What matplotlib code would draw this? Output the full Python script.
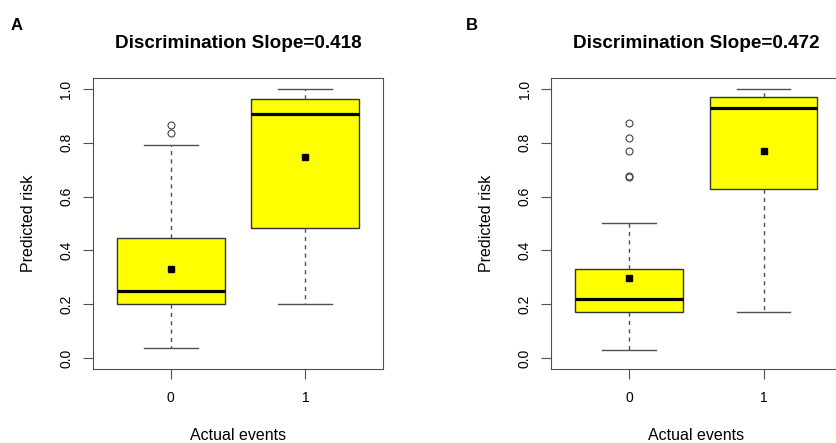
import numpy as np
import matplotlib.pyplot as plt

plt.rcParams['font.family'] = ['Liberation Sans', 'DejaVu Sans']

groups = ['0', '1']

# panel A
a_q1 = [0.201, 0.482]
a_med = [0.248, 0.907]
a_q3 = [0.446, 0.963]
a_lo = [0.037, 0.201]
a_hi = [0.793, 1.000]
a_mean = [0.329, 0.748]
a_fliers = [[0.868, 0.836], []]
a_slope = 0.418

# panel B
b_q1 = [0.172, 0.628]
b_med = [0.220, 0.928]
b_q3 = [0.331, 0.971]
b_lo = [0.031, 0.172]
b_hi = [0.500, 1.000]
b_mean = [0.2985, 0.770]
b_fliers = [[0.872, 0.819, 0.770, 0.677, 0.672], []]
b_slope = 0.472

line_col = '#505050'


def panel(ax, q1, med, q3, lo, hi, mean, fliers, slope):
    stats = []
    for i in range(len(groups)):
        stats.append(dict(q1=q1[i], med=med[i], q3=q3[i], whislo=lo[i],
                          whishi=hi[i], mean=mean[i], fliers=fliers[i],
                          label=groups[i]))
    ax.bxp(stats, positions=range(len(groups)), widths=0.8, patch_artist=True,
           showmeans=True, capwidths=0.4,
           boxprops=dict(facecolor='#FFFF00', edgecolor='#333333', lw=1),
           medianprops=dict(color='black', lw=2.3, solid_capstyle='butt'),
           whiskerprops=dict(color=line_col, lw=1, ls=(0, (3, 3))),
           capprops=dict(color=line_col, lw=1),
           flierprops=dict(marker='o', markersize=5, markerfacecolor='none',
                           markeredgecolor='#444444', markeredgewidth=0.8),
           meanprops=dict(marker='s', markersize=5, markerfacecolor='black',
                          markeredgecolor='black'))
    ax.set_xlim(-0.58, 1.58)
    ax.set_ylim(-0.04, 1.04)
    ax.set_yticks(np.arange(0, 1.01, 0.2))
    ax.set_yticklabels(['%.1f' % v for v in np.arange(0, 1.01, 0.2)],
                       rotation=90, va='center')
    for s in ax.spines.values():
        s.set_color(line_col)
    ax.tick_params(length=7, color=line_col, labelsize=10)
    ax.tick_params(axis='y', pad=7)
    ax.tick_params(axis='x', pad=9)
    ax.set_xlabel('Actual events', fontsize=11.5, labelpad=16.5)
    ax.set_ylabel('Predicted risk', fontsize=11.5, labelpad=17)
    ax.set_title('Discrimination Slope=%.3f' % slope, fontsize=13.6,
                 fontweight='bold', pad=22)


fig = plt.figure(figsize=(8.37, 4.43), dpi=100)
ax1 = fig.add_axes([0.1108, 0.1677, 0.3472, 0.6556])
ax2 = fig.add_axes([0.6583, 0.1677, 0.3472, 0.6556])
panel(ax1, a_q1, a_med, a_q3, a_lo, a_hi, a_mean, a_fliers, a_slope)
panel(ax2, b_q1, b_med, b_q3, b_lo, b_hi, b_mean, b_fliers, b_slope)
fig.text(17 / 837, 1 - 25 / 443, 'A', fontsize=12, fontweight='bold',
         ha='center', va='center')
fig.text(472 / 837, 1 - 25 / 443, 'B', fontsize=12, fontweight='bold',
         ha='center', va='center')

fig.savefig('out.png', dpi=100)
